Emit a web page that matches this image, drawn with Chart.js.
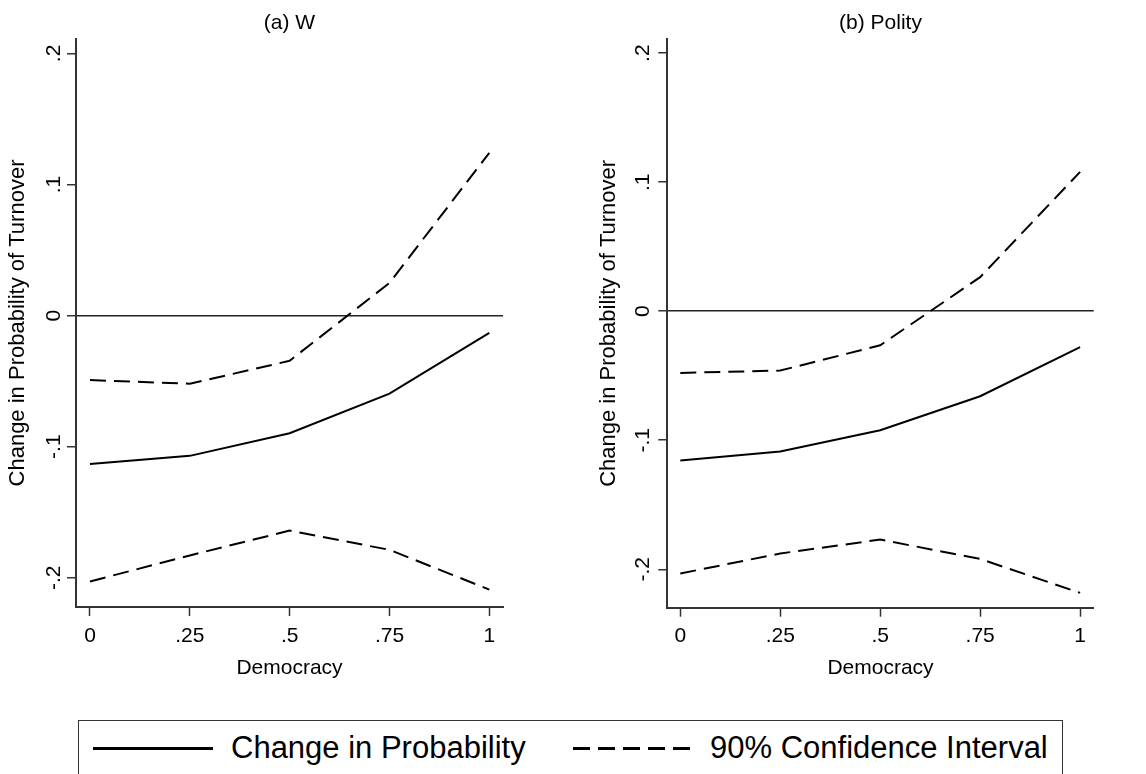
<!DOCTYPE html>
<html>
<head>
<meta charset="utf-8">
<script src="https://cdn.jsdelivr.net/npm/chart.js@4/dist/chart.umd.min.js"></script>
<style>
  body { margin: 0; background: #fff; }
  #page { position: relative; width: 1146px; height: 774px; overflow: hidden; background: #fff; font-family: 'Liberation Sans', Arial, sans-serif; }
  canvas { position: absolute; top: 0; }
  #legend { position: absolute; left: 78px; top: 720px; width: 985px; height: 90px; border: 1.5px solid #333; box-sizing: border-box; }
  .key { position: absolute; height: 3px; }
  .lab { position: absolute; font-size: 31px; line-height: 31px; color: #000; white-space: nowrap; }
</style>
</head>
<body>
<div id="page">
  <canvas id="panelW" width="573" height="700" style="left:0"></canvas>
  <canvas id="panelPolity" width="573" height="700" style="left:573px"></canvas>
  <div id="legend"></div>
  <div class="key" style="left:93px; top:746.5px; width:120px; background:#000;"></div>
  <span class="lab" style="left:231px; top:732px;">Change in Probability</span>
  <div class="key" style="left:573px; top:746.5px; width:119px; background:repeating-linear-gradient(to right, #000 0 17px, transparent 17px 25px);"></div>
  <span class="lab" style="left:710px; top:732px;">90% Confidence Interval</span>
</div>
<script>
// democracy values on the x axis
var democracy = [0, 0.25, 0.5, 0.75, 1];
var xTicks = [0, 0.25, 0.5, 0.75, 1];
var xTickLabels = ['0', '.25', '.5', '.75', '1'];
var yTicks = [-0.2, -0.1, 0, 0.1, 0.2];
var yTickLabels = ['-.2', '-.1', '0', '.1', '.2'];

// (a) W
var wChange = [-0.1133, -0.1070, -0.0897, -0.0596, -0.0132];
var wUpper = [-0.0492, -0.0520, -0.0345, 0.0249, 0.1242];
var wLower = [-0.2028, -0.1830, -0.1640, -0.1787, -0.2090];

// (b) Polity
var polChange = [-0.1157, -0.1088, -0.0922, -0.0659, -0.0279];
var polUpper = [-0.0478, -0.0460, -0.0264, 0.0264, 0.1080];
var polLower = [-0.2033, -0.1878, -0.1770, -0.1920, -0.2183];

Chart.defaults.font.family = "'Liberation Sans', Arial, sans-serif";
Chart.defaults.color = '#000';

function pts(ys) {
  return democracy.map(function (x, i) { return { x: x, y: ys[i] }; });
}

function makePanel(id, title, change, upper, lower, p) {
  var ctx = document.getElementById(id);
  return new Chart(ctx, {
    type: 'line',
    data: {
      datasets: [
        { data: pts(change), borderColor: '#000', borderWidth: 2, pointRadius: 0, fill: false, tension: 0 },
        { data: pts(upper), borderColor: '#000', borderWidth: 2, borderDash: [16, 8], pointRadius: 0, fill: false, tension: 0 },
        { data: pts(lower), borderColor: '#000', borderWidth: 2, borderDash: [16, 8], pointRadius: 0, fill: false, tension: 0 }
      ]
    },
    options: {
      responsive: false,
      animation: false,
      devicePixelRatio: 1,
      layout: { padding: { left: 0, right: p.right, top: 0, bottom: 0 } },
      plugins: {
        legend: { display: false },
        tooltip: { enabled: false },
        title: {
          display: true,
          text: title,
          fullSize: false,
          font: { size: 21, weight: 'normal' },
          color: '#000',
          padding: { top: 10.7, bottom: 3.1 }
        }
      },
      scales: {
        x: {
          type: 'linear',
          min: p.xmin,
          max: p.xmax,
          afterBuildTicks: function (s) { s.ticks = xTicks.map(function (v) { return { value: v }; }); },
          afterFit: function (s) { s.height = p.xh; },
          ticks: {
            font: { size: 21 },
            color: '#000',
            padding: 7.4,
            maxRotation: 0,
            callback: function (v) { return xTickLabels[xTicks.indexOf(v)]; }
          },
          grid: { drawOnChartArea: false, drawTicks: true, tickLength: 9, tickColor: '#333', tickWidth: 1.5 },
          border: { display: true, color: '#333', width: 2 },
          title: { display: true, text: 'Democracy', font: { size: 21 }, color: '#000', padding: { top: 0, bottom: 19.4 } }
        },
        y: {
          type: 'linear',
          min: p.ymin,
          max: p.ymax,
          afterBuildTicks: function (s) { s.ticks = yTicks.map(function (v) { return { value: v }; }); },
          afterFit: function (s) { s.width = p.yw; },
          ticks: {
            font: { size: 21 },
            color: '#000',
            padding: p.ypad,
            minRotation: 90,
            maxRotation: 90,
            crossAlign: 'center',
            callback: function (v) { return yTickLabels[yTicks.indexOf(v)]; }
          },
          grid: {
            drawOnChartArea: true,
            drawTicks: true,
            tickLength: 9,
            tickColor: '#333',
            tickWidth: 1.5,
            lineWidth: 1.5,
            color: function (c) { return (c.tick && c.tick.value === 0) ? '#222' : 'rgba(0,0,0,0)'; }
          },
          border: { display: true, color: '#333', width: 2 },
          title: { display: true, text: 'Change in Probability of Turnover', font: { size: 22 }, color: '#000', padding: { top: p.ytp, bottom: 0 } }
        }
      }
    }
  });
}

makePanel('panelW', '(a) W', wChange, wUpper, wLower,
  { right: 70, xmin: -0.035, xmax: 1.0343, ymin: -0.2223, ymax: 0.211, xh: 93, yw: 76, ypad: 0.8, ytp: 5.1 });
makePanel('panelPolity', '(b) Polity', polChange, polUpper, polLower,
  { right: 52.3, xmin: -0.0325, xmax: 1.034, ymin: -0.2298, ymax: 0.211, xh: 92.3, yw: 94.3, ypad: 2.5, ytp: 22.8 });
</script>
</body>
</html>
